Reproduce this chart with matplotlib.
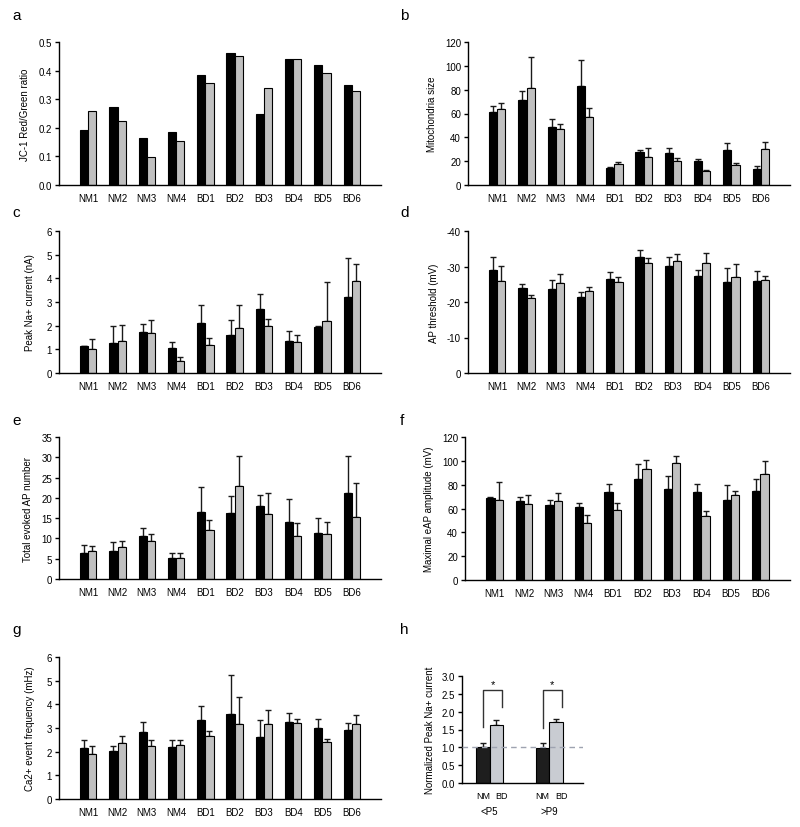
import matplotlib
matplotlib.use("Agg")
import matplotlib.pyplot as plt
import numpy as np

plt.rcParams['font.family'] = ['Liberation Sans', 'DejaVu Sans']
plt.rcParams['axes.unicode_minus'] = False

lines = ['NM1', 'NM2', 'NM3', 'NM4', 'BD1', 'BD2', 'BD3', 'BD4', 'BD5', 'BD6']

# a - JC-1 ratio (no error bars)
jc1_blk = [0.193, 0.272, 0.163, 0.187, 0.383, 0.463, 0.247, 0.441, 0.420, 0.350]
jc1_gry = [0.257, 0.224, 0.097, 0.155, 0.357, 0.452, 0.340, 0.441, 0.390, 0.330]

# b - mitochondria size
mito_blk = [61, 71, 49, 83, 14.5, 28, 27, 20, 29, 13.5]
mito_blk_sem = [5, 7.5, 6, 21.5, 0.3, 1.5, 4, 2, 6, 2.5]
mito_gry = [63.5, 81.5, 47, 57, 18, 23.5, 20, 11.5, 17, 30.5]
mito_gry_sem = [5.5, 25.5, 4, 8, 1.5, 7.5, 3, 1.5, 1.5, 5.5]

# c - peak Na+ current
na_blk = [1.12, 1.25, 1.72, 1.05, 2.13, 1.62, 2.70, 1.34, 1.93, 3.22]
na_blk_sem = [0.03, 0.72, 0.37, 0.25, 0.74, 0.63, 0.64, 0.44, 0.05, 1.64]
na_gry = [1.03, 1.35, 1.70, 0.50, 1.20, 1.92, 2.00, 1.29, 2.20, 3.89]
na_gry_sem = [0.39, 0.69, 0.55, 0.18, 0.26, 0.95, 0.30, 0.33, 1.64, 0.72]

# d - AP threshold (mV)
thr_blk = [-29, -24, -23.7, -21.5, -26.4, -32.6, -30.2, -27.2, -25.7, -26]
thr_blk_sem = [3.8, 1.0, 2.4, 1.3, 2.0, 2.0, 2.6, 1.8, 3.8, 2.6]
thr_gry = [-25.8, -21.2, -25.4, -23, -25.7, -31, -31.5, -31, -27, -26.3]
thr_gry_sem = [4.3, 0.7, 2.4, 1.1, 1.3, 1.4, 2.1, 2.9, 3.7, 1.1]

# e - total evoked AP number
apn_blk = [6.5, 7.0, 10.7, 5.2, 16.6, 16.2, 18.0, 14.0, 11.3, 21.3]
apn_blk_sem = [2.0, 2.1, 1.8, 1.1, 6.1, 4.3, 2.6, 5.8, 3.7, 8.9]
apn_gry = [7.0, 7.8, 9.4, 5.2, 12.0, 22.8, 16.0, 10.5, 11.0, 15.3]
apn_gry_sem = [1.1, 1.6, 1.8, 1.1, 2.5, 7.6, 5.1, 3.3, 3.0, 8.3]

# f - maximal eAP amplitude
amp_blk = [68.5, 66, 63, 61, 73.5, 84.5, 76, 73.5, 67.5, 74.5]
amp_blk_sem = [1.5, 3.5, 4, 3.5, 7, 12.5, 11.5, 7, 12.5, 10]
amp_gry = [67.5, 63.5, 66.5, 47.5, 58.5, 93.5, 98, 53.5, 71, 89]
amp_gry_sem = [14.5, 7.5, 6.5, 7, 6.5, 7, 6, 4.5, 4, 10.5]

# g - Ca2+ event frequency
ca_blk = [2.15, 2.03, 2.84, 2.2, 3.35, 3.6, 2.63, 3.25, 2.98, 2.9]
ca_blk_sem = [0.35, 0.19, 0.43, 0.28, 0.57, 1.66, 0.72, 0.37, 0.39, 0.32]
ca_gry = [1.9, 2.38, 2.26, 2.28, 2.67, 3.17, 3.15, 3.2, 2.42, 3.18]
ca_gry_sem = [0.32, 0.28, 0.24, 0.2, 0.21, 1.13, 0.63, 0.18, 0.11, 0.37]

# h - normalized peak Na+ current
h_groups = ['<P5', '>P9']
h_nm = [1.0, 0.99]
h_nm_sem = [0.13, 0.13]
h_bd = [1.62, 1.70]
h_bd_sem = [0.16, 0.09]

W, H = 800, 828
fig = plt.figure(figsize=(W / 100, H / 100), dpi=100)


def make_ax(x0, x1, y0, y1):
    ax = fig.add_axes([x0 / W, 1 - y1 / H, (x1 - x0) / W, (y1 - y0) / H])
    ax.spines['top'].set_visible(False)
    ax.spines['right'].set_visible(False)
    ax.spines['left'].set_linewidth(1)
    ax.spines['bottom'].set_linewidth(1)
    ax.tick_params(axis='y', direction='out', length=3, width=1, labelsize=7, pad=2)
    ax.tick_params(axis='x', length=0, labelsize=7, pad=6)
    return ax


def bar_panel(ax, blk, gry, blk_sem=None, gry_sem=None, sign=1):
    x = np.arange(len(lines))
    w = 0.28
    ax.bar(x - w / 2, blk, w, color='black', edgecolor='black', linewidth=0.8, zorder=2)
    ax.bar(x + w / 2, gry, w, color='#c0c0c0', edgecolor='black', linewidth=0.8, zorder=2)
    if blk_sem is not None:
        z = np.zeros(len(lines))
        if sign > 0:
            eb = [z, blk_sem]
            eg = [z, gry_sem]
        else:
            eb = [blk_sem, z]
            eg = [gry_sem, z]
        ax.errorbar(x - w / 2, blk, yerr=eb, fmt='none', ecolor='#1a1a1a',
                    elinewidth=1, capsize=2, capthick=1, zorder=1)
        ax.errorbar(x + w / 2, gry, yerr=eg, fmt='none', ecolor='#1a1a1a',
                    elinewidth=1, capsize=2, capthick=1, zorder=1)
    ax.set_xticks(x)
    ax.set_xticklabels(lines)
    ax.set_xlim(-1, 10)


# a
ax = make_ax(59, 381, 43, 186)
bar_panel(ax, jc1_blk, jc1_gry)
ax.set_ylim(0, 0.5)
ax.set_yticks(np.arange(0, 0.51, 0.1))
ax.set_yticklabels(['%.1f' % v for v in np.arange(0, 0.51, 0.1)])
ax.set_ylabel('JC-1 Red/Green ratio', fontsize=7, labelpad=6)

# b
ax = make_ax(468, 790, 43, 186)
bar_panel(ax, mito_blk, mito_gry, mito_blk_sem, mito_gry_sem)
ax.set_ylim(0, 120)
ax.set_yticks(range(0, 121, 20))
ax.set_ylabel('Mitochondria size', fontsize=7, labelpad=6)

# c
ax = make_ax(59, 381, 232, 374)
bar_panel(ax, na_blk, na_gry, na_blk_sem, na_gry_sem)
ax.set_ylim(0, 6)
ax.set_yticks(range(0, 7))
ax.set_ylabel('Peak Na+ current (nA)', fontsize=7, labelpad=8)

# d
ax = make_ax(468, 790, 232, 374)
bar_panel(ax, thr_blk, thr_gry, thr_blk_sem, thr_gry_sem, sign=-1)
ax.set_ylim(0, -40)
ax.set_yticks(range(0, -41, -10))
ax.set_ylabel('AP threshold (mV)', fontsize=7, labelpad=6)

# e
ax = make_ax(59, 381, 438, 580)
bar_panel(ax, apn_blk, apn_gry, apn_blk_sem, apn_gry_sem)
ax.set_ylim(0, 35)
ax.set_yticks(range(0, 36, 5))
ax.set_ylabel('Total evoked AP number', fontsize=7, labelpad=6)

# f
ax = make_ax(465, 790, 438, 581)
bar_panel(ax, amp_blk, amp_gry, amp_blk_sem, amp_gry_sem)
ax.set_ylim(0, 120)
ax.set_yticks(range(0, 121, 20))
ax.set_ylabel('Maximal eAP amplitude (mV)', fontsize=7, labelpad=6)

# g
ax = make_ax(59, 381, 658, 800)
bar_panel(ax, ca_blk, ca_gry, ca_blk_sem, ca_gry_sem)
ax.set_ylim(0, 6)
ax.set_yticks(range(0, 7))
ax.set_ylabel('Ca2+ event frequency (mHz)', fontsize=7, labelpad=8)

# h
ax = make_ax(462, 583, 677, 784)
gx = np.arange(len(h_groups))
hw = 0.224
ax.bar(gx - hw / 2, h_nm, hw, color='#1e1e1e', edgecolor='black', linewidth=0.8, zorder=2)
ax.bar(gx + hw / 2, h_bd, hw, color='#c9ccd2', edgecolor='black', linewidth=0.8, zorder=2)
z = np.zeros(len(h_groups))
ax.errorbar(gx - hw / 2, h_nm, yerr=[z, h_nm_sem], fmt='none', ecolor='#1a1a1a',
            elinewidth=1, capsize=2, capthick=1, zorder=1)
ax.errorbar(gx + hw / 2, h_bd, yerr=[z, h_bd_sem], fmt='none', ecolor='#1a1a1a',
            elinewidth=1, capsize=2, capthick=1, zorder=1)
ax.axhline(1.0, color='#9ea3b0', lw=1, ls=(0, (4, 3)), zorder=3)
ax.set_xlim(-0.46, 1.56)
ax.set_ylim(0, 3.0)
ax.set_yticks(np.arange(0, 3.01, 0.5))
ax.set_yticklabels(['%.1f' % v for v in np.arange(0, 3.01, 0.5)])
ax.set_xticks([])
xt = ax.get_xaxis_transform()
for i, g in enumerate(h_groups):
    ax.text(gx[i] - hw / 2, -0.12, 'NM', transform=xt, ha='center', va='center', fontsize=6.5)
    ax.text(gx[i] + hw / 2 - 0.01, -0.12, 'BD', transform=xt, ha='left', va='center', fontsize=6.5)
    ax.text(gx[i], -0.26, g, transform=xt, ha='center', va='center', fontsize=7)
    # significance bracket
    top = 2.61
    xl = gx[i] - hw / 2
    xr = gx[i] + hw / 2 + 0.1
    ax.plot([xl, xl, xr, xr], [h_nm[i] + h_nm_sem[i] + 0.43, top, top, h_bd[i] + h_bd_sem[i] + 0.34],
            color='#333333', lw=1, clip_on=False)
    ax.text((xl + xr) / 2, top + 0.02, '*', ha='center', va='bottom', fontsize=8)
ax.set_ylabel('Normalized Peak Na+ current', fontsize=7, labelpad=5)

for lab, x, y in [('a', 12, 16), ('b', 400, 16), ('c', 12, 213), ('d', 400, 213),
                  ('e', 12, 421), ('f', 400, 421), ('g', 12, 630), ('h', 400, 630)]:
    fig.text(x / W, 1 - y / H, lab, fontsize=11, ha='left', va='center')

fig.savefig('out.png', dpi=100)
